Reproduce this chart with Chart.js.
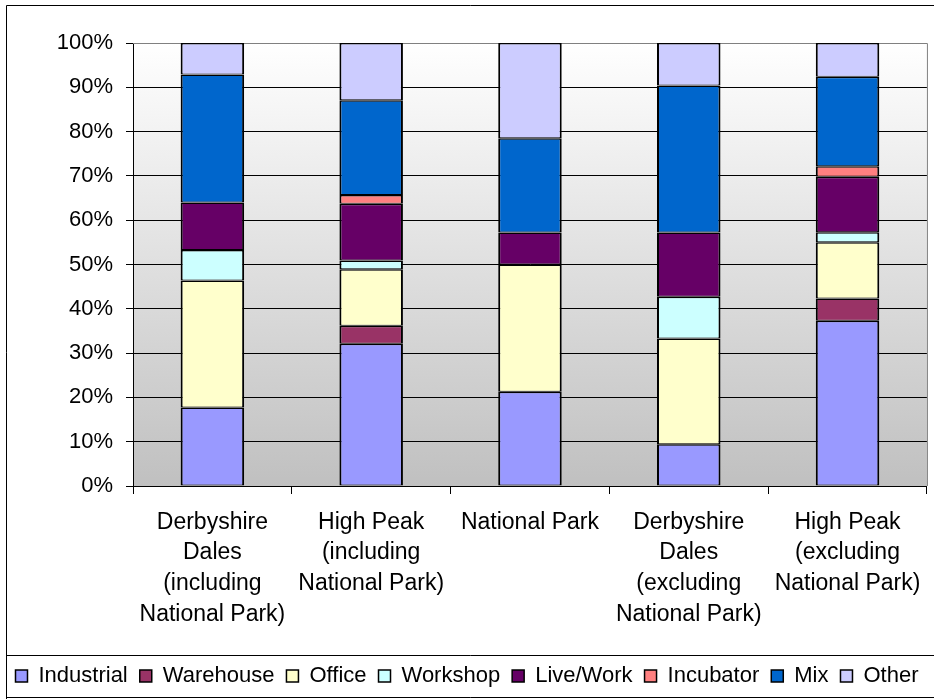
<!DOCTYPE html>
<html>
<head>
<meta charset="utf-8">
<title>Employment land by type</title>
<script src="https://cdn.jsdelivr.net/npm/chart.js@4/dist/chart.umd.min.js"></script>
<style>
  html, body { margin: 0; padding: 0; background: #fff; }
  #wrap { width: 934px; height: 699px; position: relative; }
</style>
</head>
<body>
<div id="wrap"><canvas id="chart" width="934" height="699"></canvas></div>
<script>
// categories (multi-line labels)
const categories = [
  ['Derbyshire', 'Dales', '(including', 'National Park)'],
  ['High Peak', '(including', 'National Park)'],
  ['National Park'],
  ['Derbyshire', 'Dales', '(excluding', 'National Park)'],
  ['High Peak', '(excluding', 'National Park)']
];

// series values, percent of each bar
const industrial = [17.7, 32.1, 21.3, 9.4, 37.3];
const warehouse  = [0, 4.1, 0, 0, 5.0];
const office     = [28.7, 12.7, 28.7, 23.9, 12.7];
const workshop   = [6.9, 2.0, 0, 9.4, 2.3];
const liveWork   = [10.7, 12.8, 7.2, 14.5, 12.5];
const incubator  = [0, 2.0, 0, 0, 2.4];
const mix        = [28.9, 21.4, 21.3, 33.2, 20.2];
const other      = [7.1, 12.9, 21.5, 9.6, 7.6];

const yTicks = [0, 10, 20, 30, 40, 50, 60, 70, 80, 90, 100];

const FONT = '"Liberation Sans", Arial, sans-serif';

function ds(label, data, color) {
  return {
    label, data,
    backgroundColor: color,
    borderColor: '#000',
    // stacked segments share edges, so 1px top/bottom gives ~2px lines; none for empty segments
    borderWidth: c => (c.raw ? { top: 1.5, bottom: 1, left: 2, right: 2 } : 0),
    borderSkipped: false,
    barPercentage: 0.4,
    categoryPercentage: 1.0
  };
}

// background gradient, plot border and outer frame / legend box
const decor = {
  id: 'decor',
  beforeDraw(chart) {
    const c = chart.ctx, a = chart.chartArea;
    c.save();
    const g = c.createLinearGradient(0, a.top, 0, a.bottom);
    g.addColorStop(0, '#ffffff');
    g.addColorStop(1, '#c0c0c0');
    c.fillStyle = g;
    c.fillRect(a.left, a.top, a.right - a.left, a.bottom - a.top);
    c.restore();
  },
  beforeDatasetsDraw(chart) {
    const c = chart.ctx, a = chart.chartArea;
    c.save();
    c.strokeStyle = '#808080';
    c.lineWidth = 1;
    c.beginPath();
    c.moveTo(a.left, a.top + 0.5);
    c.lineTo(a.right + 0.5, a.top + 0.5);
    c.lineTo(a.right + 0.5, a.bottom);
    c.stroke();
    c.restore();
  },
  afterDraw(chart) {
    const c = chart.ctx;
    c.save();
    c.strokeStyle = '#000';
    c.lineWidth = 1;
    // outer frame
    c.beginPath();
    c.moveTo(6.5, 699);
    c.lineTo(6.5, 5.5);
    c.lineTo(934, 5.5);
    c.stroke();
    // legend box
    c.beginPath();
    c.moveTo(6.5, 655.5);
    c.lineTo(934, 655.5);
    c.moveTo(6.5, 697.5);
    c.lineTo(934, 697.5);
    c.stroke();
    c.restore();
  }
};

const ctx = document.getElementById('chart').getContext('2d');
new Chart(ctx, {
  type: 'bar',
  data: {
    labels: categories,
    datasets: [
      ds('Industrial', industrial, '#9999FF'),
      ds('Warehouse', warehouse, '#993366'),
      ds('Office', office, '#FFFFCC'),
      ds('Workshop', workshop, '#CCFFFF'),
      ds('Live/Work', liveWork, '#660066'),
      ds('Incubator', incubator, '#FF8080'),
      ds('Mix', mix, '#0066CC'),
      ds('Other', other, '#CCCCFF')
    ]
  },
  options: {
    responsive: false,
    animation: false,
    layout: { padding: { top: 43, right: 0, left: 0, bottom: 2 } },
    plugins: {
      tooltip: { enabled: false },
      legend: {
        position: 'bottom',
        labels: {
          boxWidth: 12,
          boxHeight: 12,
          padding: 12,
          color: '#000',
          generateLabels(chart) {
            return Chart.defaults.plugins.legend.labels.generateLabels(chart)
              .map(l => Object.assign(l, { lineWidth: 1.5 }));
          },
          font: { family: FONT, size: 22 }
        }
      }
    },
    scales: {
      x: {
        stacked: true,
        grid: {
          drawOnChartArea: false,
          offset: true,
          tickLength: 8,
          color: '#000',
          tickColor: '#000'
        },
        border: { color: '#000', width: 1 },
        ticks: {
          color: '#000',
          padding: 13,
          maxRotation: 0,
          autoSkip: false,
          font: { family: FONT, size: 23, lineHeight: 1.335 }
        },
        afterFit(scale) {
          const lh = scale.chart.legend ? scale.chart.legend.height : 0;
          scale.height = 699 - 2 - lh - 486;
        }
      },
      y: {
        stacked: true,
        min: 0,
        max: 100,
        afterBuildTicks(scale) {
          scale.ticks = yTicks.map(v => ({ value: v }));
        },
        grid: {
          color: ctx => (ctx.tick && ctx.tick.value === 100) ? '#808080' : '#000',
          tickColor: '#000',
          tickLength: 7,
          lineWidth: 1
        },
        border: { color: '#000', width: 1 },
        ticks: {
          color: '#000',
          padding: 13,
          font: { family: FONT, size: 22 },
          callback: v => v + '%'
        },
        afterFit(scale) { scale.width = 133; }
      },
      // empty strip on the right so the plot stops short of the canvas edge
      gap: {
        position: 'right',
        display: true,
        min: 0,
        max: 1,
        grid: { display: false },
        border: { display: false },
        ticks: { display: false },
        afterFit(scale) { scale.width = 6; }
      }
    }
  },
  plugins: [decor]
});
</script>
</body>
</html>
